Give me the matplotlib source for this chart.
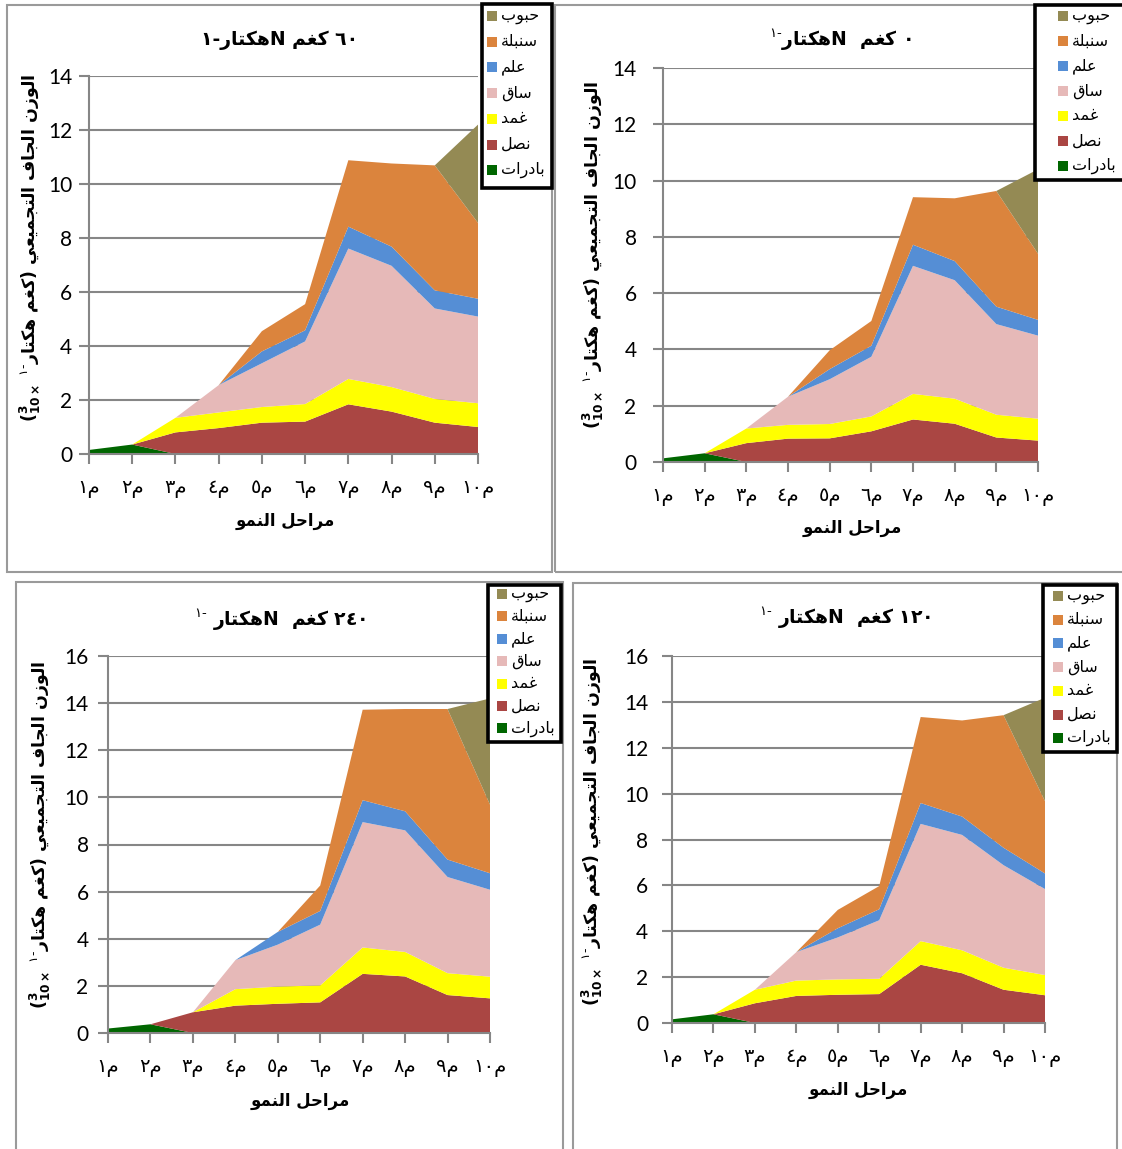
import matplotlib
matplotlib.use("Agg")
import matplotlib.pyplot as plt
from matplotlib.patches import Rectangle

W, H = 1122, 1149

# === DATA ===
# growth stages, plant parts (stack order bottom -> top), N rates
STAGES = ["م١", "م٢", "م٣", "م٤", "م٥", "م٦", "م٧", "م٨", "م٩", "م١٠"]
PARTS = ["بادرات", "نصل", "غمد", "ساق", "علم", "سنبلة", "حبوب"]
COLORS = ["#006600", "#AA4643", "#FFFF00", "#E6B9B8", "#558ED5", "#DB843D", "#948A54"]
RATES = ["٠", "٦٠", "١٢٠", "٢٤٠"]

# dry weight of each part (x10^3 kg/ha), one row per N rate: 0, 60, 120, 240
seedlings = [
    [0.13, 0.31, 0, 0, 0, 0, 0, 0, 0, 0],
    [0.15, 0.35, 0, 0, 0, 0, 0, 0, 0, 0],
    [0.16, 0.38, 0, 0, 0, 0, 0, 0, 0, 0],
    [0.19, 0.37, 0, 0, 0, 0, 0, 0, 0, 0],
]
blade = [
    [0, 0, 0.67, 0.83, 0.84, 1.09, 1.51, 1.36, 0.87, 0.76],
    [0, 0, 0.80, 0.96, 1.16, 1.20, 1.84, 1.57, 1.16, 1.00],
    [0, 0, 0.86, 1.18, 1.23, 1.26, 2.54, 2.17, 1.45, 1.21],
    [0, 0, 0.88, 1.16, 1.24, 1.30, 2.51, 2.40, 1.61, 1.47],
]
sheath = [
    [0, 0, 0.52, 0.49, 0.51, 0.53, 0.91, 0.89, 0.81, 0.78],
    [0, 0, 0.54, 0.58, 0.58, 0.65, 0.94, 0.91, 0.88, 0.88],
    [0, 0, 0.59, 0.67, 0.67, 0.67, 1.03, 1.00, 0.96, 0.88],
    [0, 0, 0.00, 0.70, 0.73, 0.72, 1.12, 1.04, 0.93, 0.92],
]
stem = [
    [0, 0, 0, 1.00, 1.59, 2.12, 4.55, 4.21, 3.22, 2.95],
    [0, 0, 0, 1.01, 1.62, 2.32, 4.83, 4.49, 3.35, 3.21],
    [0, 0, 0, 1.24, 1.83, 2.55, 5.11, 5.03, 4.47, 3.75],
    [0, 0, 0, 1.23, 1.78, 2.58, 5.32, 5.16, 4.08, 3.69],
]
flag = [
    [0, 0, 0, 0, 0.36, 0.39, 0.75, 0.68, 0.62, 0.56],
    [0, 0, 0, 0, 0.44, 0.41, 0.81, 0.71, 0.67, 0.66],
    [0, 0, 0, 0, 0.40, 0.48, 0.91, 0.80, 0.76, 0.68],
    [0, 0, 0, 0, 0.54, 0.58, 0.93, 0.81, 0.74, 0.70],
]
spike = [
    [0, 0, 0, 0, 0.67, 0.88, 1.69, 2.23, 4.11, 2.35],
    [0, 0, 0, 0, 0.75, 0.97, 2.46, 3.08, 4.63, 2.81],
    [0, 0, 0, 0, 0.80, 1.01, 3.75, 4.19, 5.78, 3.15],
    [0, 0, 0, 0, 0.00, 1.08, 3.84, 4.34, 6.39, 2.91],
]
grain = [
    [0, 0, 0, 0, 0, 0, 0, 0, 0, 3.00],
    [0, 0, 0, 0, 0, 0, 0, 0, 0, 3.64],
    [0, 0, 0, 0, 0, 0, 0, 0, 0, 4.51],
    [0, 0, 0, 0, 0, 0, 0, 0, 0, 4.51],
]

# === ARABIC SHAPING (matplotlib has no text shaping) ===
FORMS = {
    "ا": (0xFE8D, 0xFE8E), "ب": (0xFE8F, 0xFE90, 0xFE91, 0xFE92),
    "ة": (0xFE93, 0xFE94), "ت": (0xFE95, 0xFE96, 0xFE97, 0xFE98),
    "ج": (0xFE9D, 0xFE9E, 0xFE9F, 0xFEA0), "ح": (0xFEA1, 0xFEA2, 0xFEA3, 0xFEA4),
    "د": (0xFEA9, 0xFEAA), "ر": (0xFEAD, 0xFEAE), "ز": (0xFEAF, 0xFEB0),
    "س": (0xFEB1, 0xFEB2, 0xFEB3, 0xFEB4), "ص": (0xFEB9, 0xFEBA, 0xFEBB, 0xFEBC),
    "ع": (0xFEC9, 0xFECA, 0xFECB, 0xFECC), "غ": (0xFECD, 0xFECE, 0xFECF, 0xFED0),
    "ف": (0xFED1, 0xFED2, 0xFED3, 0xFED4), "ق": (0xFED5, 0xFED6, 0xFED7, 0xFED8),
    "ك": (0xFED9, 0xFEDA, 0xFEDB, 0xFEDC), "ل": (0xFEDD, 0xFEDE, 0xFEDF, 0xFEE0),
    "م": (0xFEE1, 0xFEE2, 0xFEE3, 0xFEE4), "ن": (0xFEE5, 0xFEE6, 0xFEE7, 0xFEE8),
    "ه": (0xFEE9, 0xFEEA, 0xFEEB, 0xFEEC), "و": (0xFEED, 0xFEEE),
    "ي": (0xFEF1, 0xFEF2, 0xFEF3, 0xFEF4),
}
LTR = set("0123456789٠١٢٣٤٥٦٧٨٩ABCDEFGHIJKLMNOPQRSTUVWXYZabcdefghijklmnopqrstuvwxyz")


def ar(text):
    """shape arabic letters and return them in visual (left to right) order"""
    glyphs = []
    for i, c in enumerate(text):
        f = FORMS.get(c)
        if f is None:
            glyphs.append({"(": ")", ")": "("}.get(c, c))
            continue
        prev = FORMS.get(text[i - 1]) if i > 0 else None
        nxt = FORMS.get(text[i + 1]) if i + 1 < len(text) else None
        a = prev is not None and len(prev) == 4
        b = nxt is not None and len(f) == 4
        glyphs.append(chr(f[3] if a and b else f[1] if a else f[2] if b else f[0]))
    glyphs.reverse()
    out, run = [], []
    for g in glyphs:
        if g in LTR:
            run.append(g)
        else:
            out.extend(reversed(run))
            run = []
            out.append(g)
    out.extend(reversed(run))
    return "".join(out)


def fx(x):
    return x / W


def fy(y):
    return 1 - y / H


SUP = "$^{١\u2010}$"
YLABEL = ("(" + r"$^{\mathbf{3}}_{\mathbf{10\times}}$" + " " + SUP
          + ar("كغم هكتار") + ") " + ar("الوزن الجاف التجميعي"))
XLABEL = ar("مراحل النمو")
AR = "DejaVu Sans"
GRAY = "#868686"

# === LAYOUT (pixels) ===
panels = [
    dict(rate=1, title=ar(RATES[1] + " كغم Nهكتار-١"),
         ax=(89, 478, 76, 454), ymax=14, ypad=5,
         border=(7, 5, 552, 572), legend=(482, 4, 552, 188), sq=(487, 16, 25.7),
         title_xy=(280, 40), ylab_xy=(30, 248), xlab_xy=(285, 521)),
    dict(rate=0, title=SUP + ar(RATES[0] + " كغم  Nهكتار"),
         ax=(663, 1038, 68, 462), ymax=14, ypad=12,
         border=(555, 5, 1130, 572), legend=(1035, 5, 1126, 180), sq=(1058, 16, 25.0),
         title_xy=(840, 40), ylab_xy=(593, 255), xlab_xy=(852, 528)),
    dict(rate=3, title=SUP + " " + ar(RATES[3] + " كغم  Nهكتار"),
         ax=(108, 490, 656, 1033), ymax=16, ypad=7,
         border=(16, 582, 563, 1160), legend=(488, 585, 561, 742), sq=(497, 594, 22.4),
         title_xy=(280, 620), ylab_xy=(40, 835), xlab_xy=(300, 1101)),
    dict(rate=2, title=SUP + " " + ar(RATES[2] + " كغم  Nهكتار"),
         ax=(672, 1045, 656, 1023), ymax=16, ypad=10,
         border=(573, 583, 1117, 1160), legend=(1043, 585, 1117, 752), sq=(1053, 596, 23.7),
         title_xy=(845, 618), ylab_xy=(592, 832), xlab_xy=(858, 1090)),
]

fig = plt.figure(figsize=(W / 100, H / 100), dpi=100)
fig.patch.set_facecolor("white")
x = list(range(len(STAGES)))

for p in panels:
    r = p["rate"]
    x0, x1, yt, yb = p["ax"]
    ax = fig.add_axes([fx(x0), fy(yb), (x1 - x0) / W, (yb - yt) / H])
    ax.stackplot(x, seedlings[r], blade[r], sheath[r], stem[r], flag[r], spike[r], grain[r],
                 colors=COLORS, linewidth=0)
    ax.set_xlim(0, len(STAGES) - 1)
    ax.set_ylim(0, p["ymax"])
    ax.set_axisbelow(True)
    ax.yaxis.grid(True, color=GRAY, linewidth=1.5)
    for s in ["top", "right"]:
        ax.spines[s].set_visible(False)
    for s in ["left", "bottom"]:
        ax.spines[s].set_color(GRAY)
        ax.spines[s].set_linewidth(1.5)
    ax.set_xticks(x)
    ax.set_xticklabels([ar(s) for s in STAGES], family=AR, fontsize=14)
    ax.set_yticks(range(0, p["ymax"] + 1, 2))
    ax.set_yticklabels([str(v) for v in range(0, p["ymax"] + 1, 2)], family="Lato", fontsize=15)
    ax.tick_params(axis="both", direction="out", length=7, width=1.5, color=GRAY)
    ax.tick_params(axis="x", pad=11)
    ax.tick_params(axis="y", pad=p["ypad"])

    # panel frame
    bx0, by0, bx1, by1 = p["border"]
    fig.add_artist(Rectangle((fx(bx0), fy(by1)), (bx1 - bx0) / W, (by1 - by0) / H,
                             transform=fig.transFigure, fc="none", ec="#9a9a9a", lw=1.5, zorder=2))

    # texts
    tx, ty = p["title_xy"]
    fig.text(fx(tx), fy(ty), p["title"], family=AR, fontsize=13.5, fontweight="bold",
             ha="center", va="center")
    lx, ly = p["ylab_xy"]
    fig.text(fx(lx), fy(ly), YLABEL, family=AR, fontsize=12.5, fontweight="bold",
             rotation=90, ha="center", va="center")
    gx, gy = p["xlab_xy"]
    fig.text(fx(gx), fy(gy), XLABEL, family=AR, fontsize=12, fontweight="bold",
             ha="center", va="center")

    # legend box (top entry = top of stack)
    lx0, ly0, lx1, ly1 = p["legend"]
    fig.add_artist(Rectangle((fx(lx0), fy(ly1)), (lx1 - lx0) / W, (ly1 - ly0) / H,
                             transform=fig.transFigure, fc="white", ec="black", lw=2.6, zorder=3))
    sx, row0, pitch = p["sq"]
    for k in range(len(PARTS)):
        i = len(PARTS) - 1 - k
        yc = row0 + k * pitch
        fig.add_artist(Rectangle((fx(sx), fy(yc + 5)), 10 / W, 10 / H,
                                 transform=fig.transFigure, fc=COLORS[i], ec="none", zorder=4))
        fig.text(fx(sx + 14), fy(yc), ar(PARTS[i]), family=AR, fontsize=11.5,
                 ha="left", va="center", zorder=5)

fig.savefig("out.png", dpi=100)
